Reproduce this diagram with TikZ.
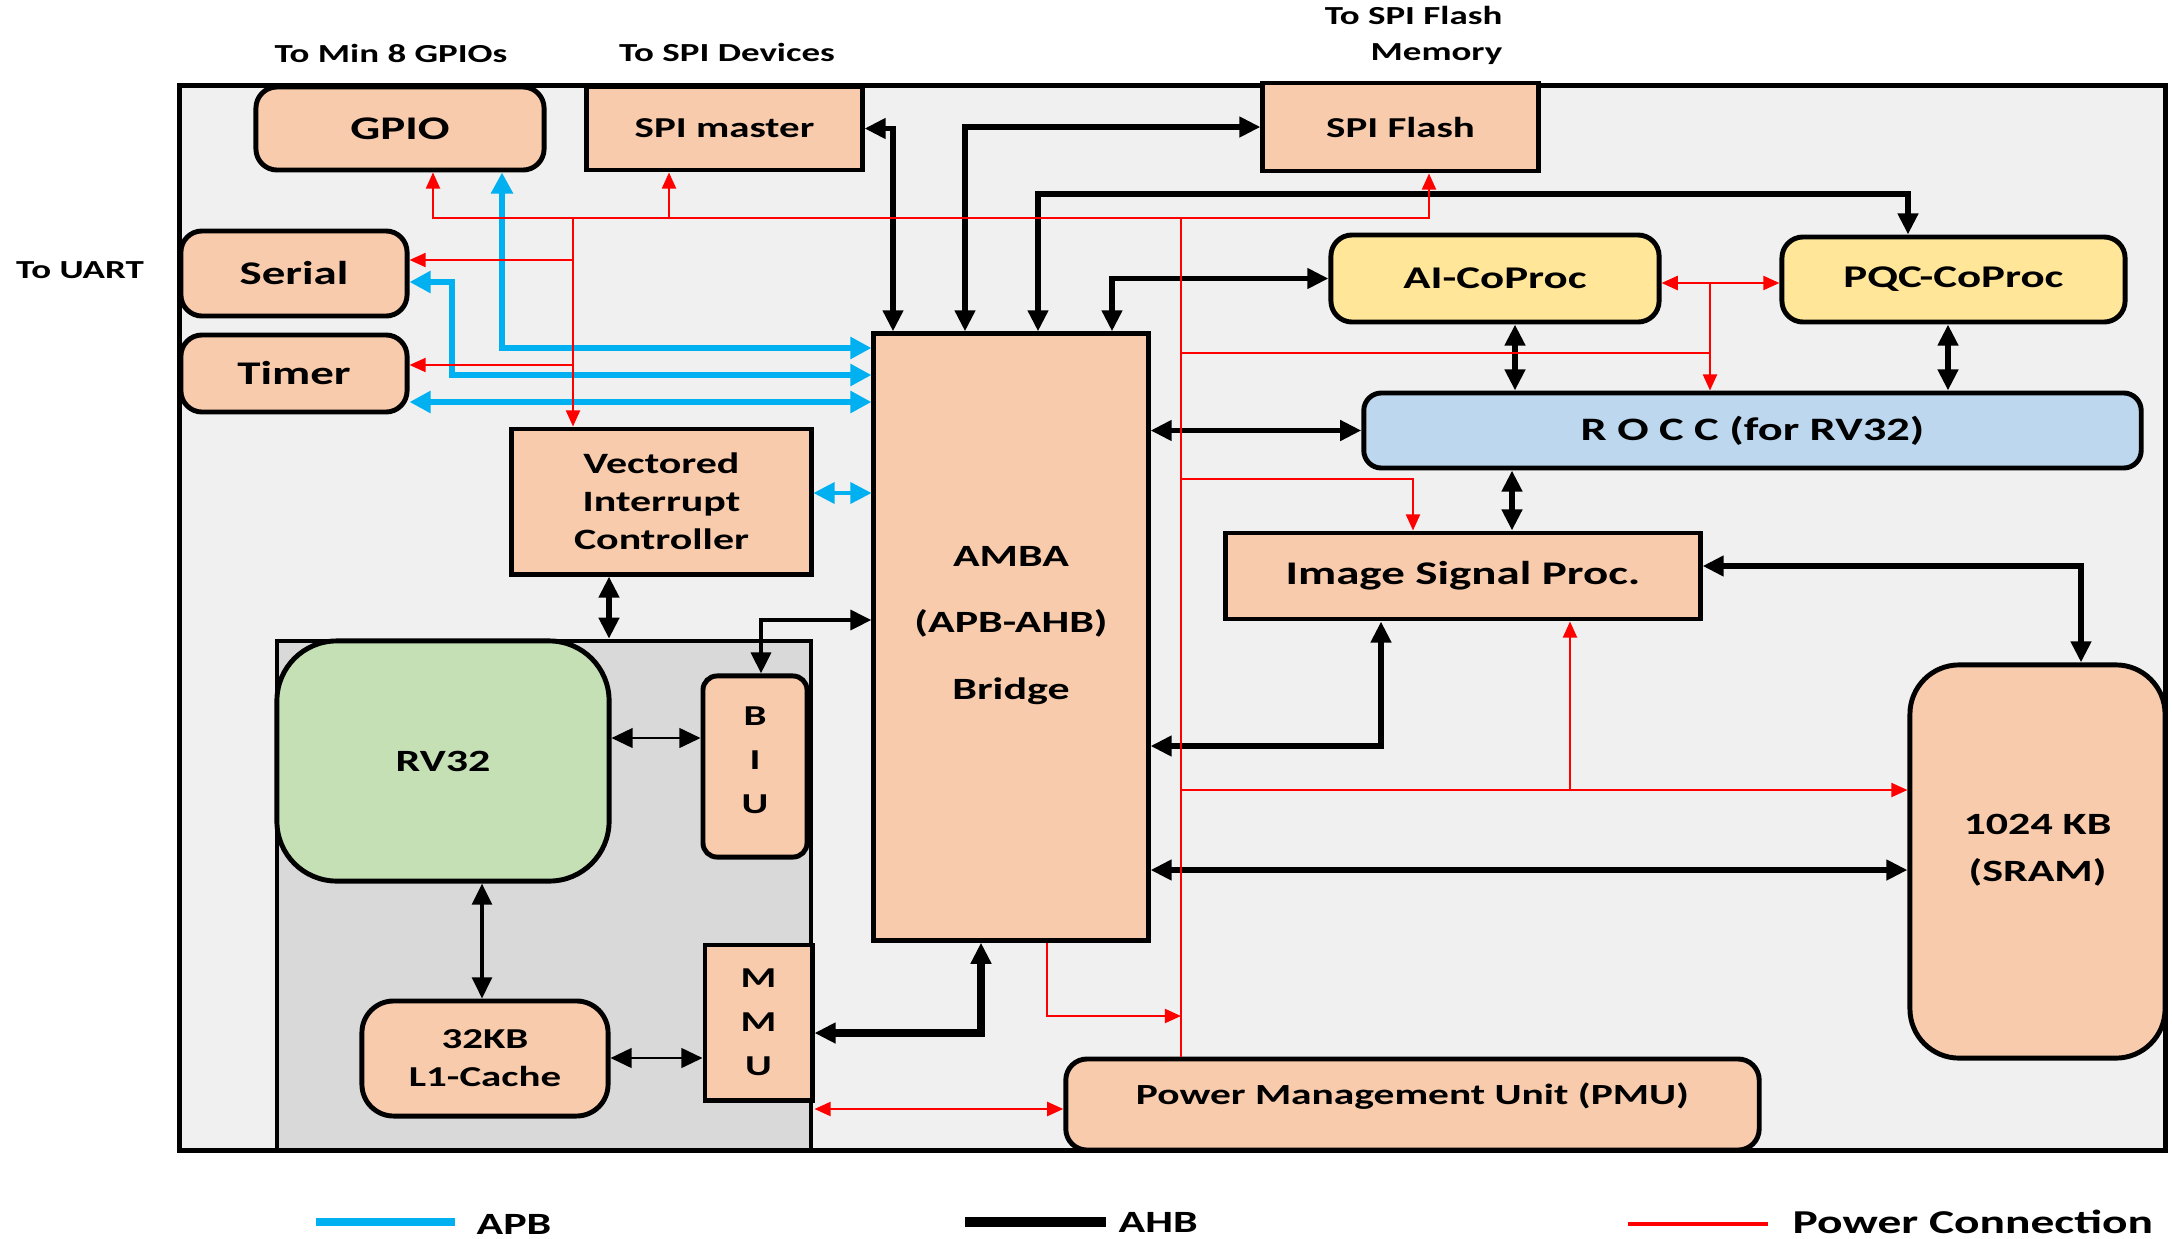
\documentclass[tikz,border=0pt]{standalone}
\usepackage{fontspec}
\setmainfont{Carlito}[FakeStretch=1.42]
\usetikzlibrary{arrows.meta}

\definecolor{peach}{HTML}{F8CBAD}
\definecolor{paleyellow}{HTML}{FFE699}
\definecolor{palegreen}{HTML}{C5E0B4}
\definecolor{paleblue}{HTML}{BDD7EE}
\definecolor{panel}{HTML}{F0F0F0}
\definecolor{corebg}{HTML}{D9D9D9}
\definecolor{apbblue}{HTML}{00B0F0}

\tikzset{
  box/.style={draw, line width=1.4pt, fill=peach, inner sep=0pt, align=center,
    font=\bfseries\fontsize{8.2}{10}\selectfont},
  rbox/.style={box, rounded corners=6pt},
  bigtxt/.style={font=\bfseries\fontsize{9.4}{11}\selectfont},
  cotxt/.style={font=\bfseries\fontsize{9}{11}\selectfont},
  lbl/.style={inner sep=0pt, font=\bfseries\fontsize{7.4}{10.2}\selectfont},
  legtxt/.style={inner sep=0pt, anchor=west, font=\bfseries\fontsize{8.8}{10}\selectfont},
  ahb/.style={line width=1.5pt, >={Triangle[length=6pt,width=5.6pt]}, <->},
  apb/.style={apbblue, line width=1.5pt, >={Triangle[length=6pt,width=6pt]}, <->},
  pwr/.style={red, line width=0.6pt, >={Triangle[length=4.6pt,width=4pt]}}
}

\begin{document}
\begin{tikzpicture}[x=0.01cm, y=-0.01cm]
\useasboundingbox (0,0) rectangle (2172,1239);

% chip and core area
\node[draw, fill=panel, line width=1.5pt, minimum width=19.85cm, minimum height=10.64cm, inner sep=0pt] (chip) at (1172.5,618) {};
\node[draw, fill=corebg, line width=1.2pt, minimum width=5.34cm, minimum height=5.09cm, inner sep=0pt] (cpu) at (544,895.5) {};

% peripherals
\node[rbox, bigtxt, minimum width=2.88cm, minimum height=0.83cm] (gpio) at (400,128.5) {GPIO};
\node[box, minimum width=2.75cm, minimum height=0.83cm] (spim) at (724.5,128.5) {SPI master};
\node[box, minimum width=2.75cm, minimum height=0.88cm] (sflash) at (1400.5,127) {SPI Flash};
\node[rbox, bigtxt, minimum width=2.26cm, minimum height=0.85cm] (serial) at (294,273.5) {Serial};
\node[rbox, bigtxt, minimum width=2.26cm, minimum height=0.77cm] (timer) at (294,373.5) {Timer};
\node[box, font=\bfseries\fontsize{8.4}{10.8}\selectfont, minimum width=2.99cm, minimum height=1.45cm] (vic) at (661.5,501.5) {Vectored\\Interrupt\\Controller};
\node[box, font=\bfseries\fontsize{8.8}{19}\selectfont, text depth=8pt, minimum width=2.74cm, minimum height=6.06cm] (amba) at (1011,637) {AMBA\\(APB-AHB)\\Bridge};

% core
\node[box, fill=palegreen, rounded corners=17pt, font=\bfseries\fontsize{8.8}{10}\selectfont, minimum width=3.32cm, minimum height=2.40cm] (rv) at (443,761) {RV32};
\node[box, rounded corners=4pt, font=\bfseries\fontsize{8.2}{12.5}\selectfont, text depth=3.5pt, minimum width=1.04cm, minimum height=1.81cm] (biu) at (755,766.5) {B\\I\\U};
\node[box, font=\bfseries\fontsize{8.2}{12.5}\selectfont, minimum width=1.07cm, minimum height=1.55cm] (mmu) at (758.5,1022.5) {M\\M\\U};
\node[box, rounded corners=9pt, font=\bfseries\fontsize{8.2}{10.8}\selectfont, minimum width=2.46cm, minimum height=1.15cm] (l1) at (485,1058.5) {32KB\\L1-Cache};

% coprocessors and memory
\node[rbox, cotxt, fill=paleyellow, minimum width=3.28cm, minimum height=0.87cm] (ai) at (1495,278.5) {AI-CoProc};
\node[rbox, cotxt, fill=paleyellow, minimum width=3.43cm, minimum height=0.85cm] (pqc) at (1953.5,279.5) {PQC-CoProc};
\node[box, fill=paleblue, rounded corners=5pt, font=\bfseries\fontsize{9.3}{10}\selectfont, minimum width=7.77cm, minimum height=0.75cm] (rocc) at (1752.5,430.5) {R O C C (for RV32)};
\node[box, bigtxt, minimum width=4.74cm, minimum height=0.86cm] (isp) at (1463,576) {Image Signal Proc.};
\node[box, rounded corners=14pt, font=\bfseries\fontsize{8.8}{13.4}\selectfont, text depth=8pt, minimum width=2.55cm, minimum height=3.93cm] (sram) at (2037.5,861.5) {1024 KB\\(SRAM)};
\node[rbox, font=\bfseries\fontsize{8.3}{10}\selectfont, text depth=6pt, minimum width=6.93cm, minimum height=0.91cm] (pmu) at (1412.5,1104.5) {Power Management Unit (PMU)};

% outside labels
\node[lbl] (togpio) at (391,53) {To Min 8 GPIOs};
\node[lbl] (tospi) at (727,52) {To SPI Devices};
\node[lbl, anchor=east, align=right] (toflash) at (1503,35) {To SPI Flash\\Memory};
\node[lbl] (touart) at (80,270) {To UART};

% APB
\draw[apb] (502,0 |- gpio.south) |- (amba.west |- 0,348);
\draw[apb] (serial.east |- 0,282) -- (452,282) |- (amba.west |- 0,375);
\draw[apb] (timer.east |- 0,402) -- (amba.west |- 0,402);
\draw[apb, line width=1pt] (vic.east |- 0,493) -- (amba.west |- 0,493);

% AHB
\draw[ahb] (spim.east) -| (893,0 |- amba.north);
\draw[ahb] (sflash.west) -| (965,0 |- amba.north);
\draw[ahb] (1038,0 |- amba.north) |- (1908,194) -- (1908,0 |- pqc.north);
\draw[ahb] (1112,0 |- amba.north) |- (ai.west);
\draw[ahb] (amba.east |- rocc.west) -- (rocc.west);
\draw[ahb] (1515,0 |- ai.south) -- (1515,0 |- rocc.north);
\draw[ahb] (1948,0 |- pqc.south) -- (1948,0 |- rocc.north);
\draw[ahb] (1512,0 |- rocc.south) -- (1512,0 |- isp.north);
\draw[ahb] (isp.east |- 0,566) -| (2081,0 |- sram.north);
\draw[ahb] (amba.east |- 0,746) -| (1381,0 |- isp.south);
\draw[ahb] (amba.east |- 0,870) -- (sram.west |- 0,870);
\draw[ahb, line width=2.2pt] (981,0 |- amba.south) |- (mmu.east |- 0,1033);
\draw[ahb, line width=1.2pt] (amba.west |- 0,620) -| (761,0 |- biu.north);
\draw[ahb] (609,0 |- vic.south) -- (609,0 |- cpu.north);
\draw[ahb, line width=0.6pt] (rv.east |- 0,738) -- (biu.west |- 0,738);
\draw[ahb, line width=1pt] (482,0 |- rv.south) -- (482,0 |- l1.north);
\draw[ahb, line width=0.6pt] (l1.east |- 0,1058) -- (mmu.west |- 0,1058);

% power
\coordinate (ptop) at (1181,218);
\coordinate (pleft) at (573,218);
\draw[pwr, <->] (433,0 |- gpio.south) |- (1429,218) -- (1429,0 |- sflash.south);
\draw[pwr, ->] (669,218) -- (669,0 |- spim.south);
\draw[pwr, ->] (pleft) -- (pleft |- vic.north);
\draw[pwr, ->] (573,260) -- (serial.east |- 0,260);
\draw[pwr, ->] (573,365) -- (timer.east |- 0,365);
\draw[pwr] (ptop) -- (ptop |- pmu.north);
\draw[pwr, <->] (ai.east |- 0,283) -- (pqc.west |- 0,283);
\draw[pwr, ->] (1710,283) -- (1710,0 |- rocc.north);
\draw[pwr] (1181,353) -- (1710,353);
\draw[pwr, ->] (1181,479) -| (1413,0 |- isp.north);
\draw[pwr, ->] (1181,790) -- (sram.west |- 0,790);
\draw[pwr, ->] (1570,790) -- (1570,0 |- isp.south);
\draw[pwr, ->] (1047,0 |- amba.south) |- (1181,1016);
\draw[pwr, <->] (mmu.east |- 0,1109) -- (pmu.west |- 0,1109);

% legend
\draw[apbblue, line width=2.3pt] (316,1222) -- (455,1222);
\node[legtxt] (lgapb) at (476,1224) {APB};
\draw[line width=2.8pt] (965,1222) -- (1106,1222);
\node[legtxt] (lgahb) at (1118,1222) {AHB};
\draw[red, line width=0.9pt] (1628,1224) -- (1768,1224);
\node[legtxt, font=\bfseries\fontsize{9.5}{10}\selectfont] (lgpwr) at (1792,1222) {Power Connection};
\end{tikzpicture}
\end{document}
